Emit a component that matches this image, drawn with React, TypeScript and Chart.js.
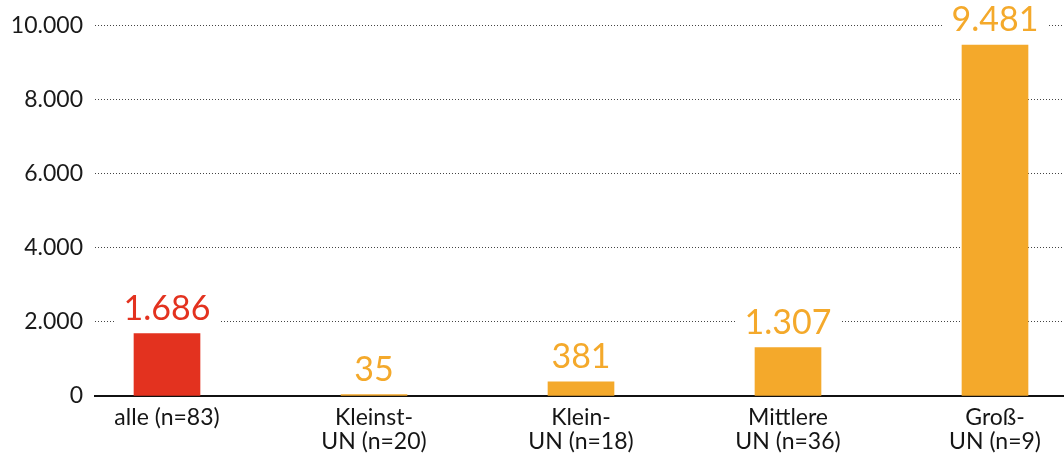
import React, { useEffect, useRef } from "react";
import { Chart, registerables } from "chart.js";

Chart.register(...registerables);

const categories: string[][] = [
  ["alle (n=83)"],
  ["Kleinst-", "UN (n=20)"],
  ["Klein-", "UN (n=18)"],
  ["Mittlere", "UN (n=36)"],
  ["Groß-", "UN (n=9)"],
];
const values: number[] = [1686, 35, 381, 1307, 9481];
const barColors: string[] = ["#E3321F", "#F4A92B", "#F4A92B", "#F4A92B", "#F4A92B"];
const yTicks: number[] = [0, 2000, 4000, 6000, 8000, 10000];

const fmt = (v: number) => String(Math.round(v)).replace(/\B(?=(\d{3})+(?!\d))/g, ".");

const valueLabelPlugin = {
  id: "valueLabels",
  afterDatasetsDraw(chart: any) {
    const ctx = chart.ctx;
    const meta = chart.getDatasetMeta(0);
    ctx.save();
    ctx.font = "34px Lato";
    ctx.textAlign = "center";
    ctx.textBaseline = "alphabetic";
    meta.data.forEach((bar: any, i: number) => {
      const text = fmt(values[i]);
      const baseY = bar.y - 14;
      const w = ctx.measureText(text).width;
      ctx.fillStyle = "#ffffff";
      ctx.fillRect(bar.x - w / 2 - 9, baseY - 29, w + 18, 35);
      ctx.fillStyle = barColors[i];
      ctx.fillText(text, bar.x, baseY);
    });
    ctx.restore();
  },
};

export default function App() {
  const ref = useRef<HTMLCanvasElement | null>(null);
  useEffect(() => {
    document.body.style.margin = "0";
    let chart: Chart | null = null;
    let cancelled = false;
    const make = () => {
      if (cancelled || !ref.current) return;
      const xMin = -(167 - 95) / 207;
      const xMax = xMin + (1064 - 95) / 207;
      chart = new Chart(ref.current, {
        type: "bar",
        data: {
          datasets: [
            {
              data: values.map((v, i) => ({ x: i, y: v })),
              backgroundColor: barColors,
              borderWidth: 0,
              barThickness: 66,
            } as any,
          ],
        },
        options: {
          animation: false,
          responsive: false,
          maintainAspectRatio: false,
          layout: { padding: { top: 17, left: 0, right: 0, bottom: 0 } },
          plugins: { legend: { display: false }, tooltip: { enabled: false } },
          scales: {
            x: {
              type: "linear",
              min: xMin,
              max: xMax,
              offset: false,
              grid: { display: false, drawTicks: false, offset: false },
              border: { display: true, color: "#111111", width: 2 },
              afterFit: (s: any) => {
                s.height = 61;
              },
              afterBuildTicks: (s: any) => {
                s.ticks = categories.map((_, i) => ({ value: i }));
              },
              ticks: {
                stepSize: 1,
                includeBounds: false,
                autoSkip: false,
                maxRotation: 0,
                padding: 9,
                color: "#151515",
                font: { family: "Lato", size: 23, lineHeight: 1.07 },
                callback: (v: any) => {
                  const n = Number(v);
                  return Number.isInteger(n) && categories[n] ? categories[n] : "";
                },
              },
            } as any,
            y: {
              min: 0,
              max: 10000,
              afterFit: (s: any) => {
                s.width = 95;
              },
              afterBuildTicks: (s: any) => {
                s.ticks = yTicks.map((v) => ({ value: v }));
              },
              grid: {
                color: "#444444",
                lineWidth: 1,
                drawTicks: false,
              },
              border: { display: false, dash: [1, 2] },
              ticks: {
                padding: 12,
                color: "#1a1a1a",
                font: { family: "Lato", size: 23 },
                callback: (v: any) => fmt(Number(v)),
              },
            } as any,
          },
        },
        plugins: [valueLabelPlugin],
      });
    };
    const fonts: any = (document as any).fonts;
    if (fonts && fonts.load) {
      Promise.all([fonts.load("20px Lato"), fonts.load("34px Lato")]).then(make, make);
    } else {
      make();
    }
    return () => {
      cancelled = true;
      if (chart) chart.destroy();
    };
  }, []);
  return (
    <div style={{ width: 1064, height: 457, background: "#fff" }}>
      <canvas ref={ref} width={1064} height={457} style={{ display: "block" }} />
    </div>
  );
}
